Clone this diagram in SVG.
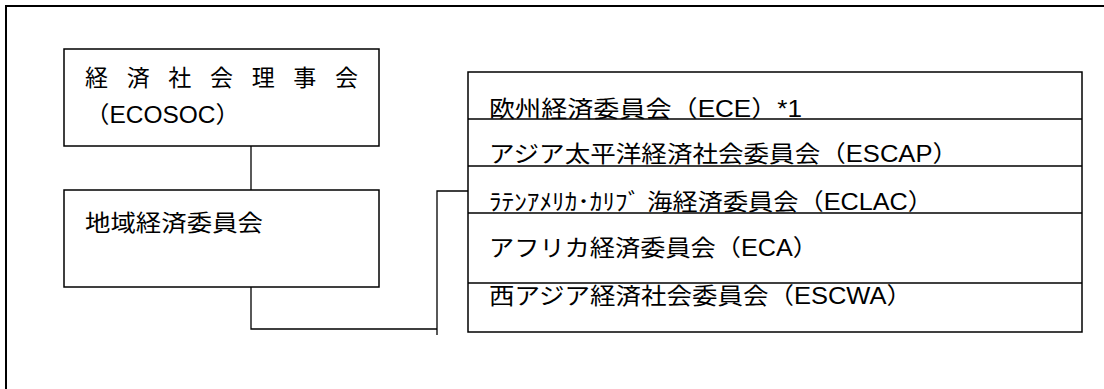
<svg xmlns="http://www.w3.org/2000/svg" width="1104" height="389" viewBox="0 0 1104 389">
<style>
.box{fill:none;stroke:#000;stroke-width:1.5}
.div{stroke:#000;stroke-width:1.5}
.con{fill:none;stroke:#000;stroke-width:1.3}
.frame{fill:none;stroke:#000;stroke-width:2}
text{font-family:"Liberation Sans","Noto Sans CJK JP",sans-serif;font-size:23px;fill:#000}
</style>
<rect width="1104" height="389" fill="#fff"/>
<path class="frame" d="M6 389 V6 H1104"/>
<g id="ecosoc">
<rect class="box" x="64" y="49" width="315" height="97"/>
<text x="85" y="86" textLength="273" lengthAdjust="spacing">経 済 社 会 理 事 会</text>
<text x="85" y="123" textLength="155" lengthAdjust="spacingAndGlyphs">（ECOSOC）</text>
</g>
<g id="regional">
<rect class="box" x="64" y="190" width="315" height="97"/>
<text x="85" y="231" textLength="178" lengthAdjust="spacingAndGlyphs">地域経済委員会</text>
</g>
<g id="commissions">
<rect class="box" x="468" y="72" width="614" height="260"/>
<line class="div" x1="468" y1="119" x2="1082" y2="119"/>
<line class="div" x1="468" y1="166" x2="1082" y2="166"/>
<line class="div" x1="468" y1="213" x2="1082" y2="213"/>
<line class="div" x1="468" y1="283" x2="1082" y2="283"/>
<g id="ece"><text x="489" y="117" textLength="313" lengthAdjust="spacingAndGlyphs">欧州経済委員会（ECE）*1</text></g>
<g id="escap"><text x="489" y="162" textLength="469" lengthAdjust="spacingAndGlyphs">アジア太平洋経済社会委員会（ESCAP）</text></g>
<g id="eclac"><text x="489" y="210" textLength="444" lengthAdjust="spacingAndGlyphs">ﾗﾃﾝｱﾒﾘｶ･ｶﾘﾌﾞ 海経済委員会（ECLAC）</text></g>
<g id="eca"><text x="489" y="256" textLength="329" lengthAdjust="spacingAndGlyphs">アフリカ経済委員会（ECA）</text></g>
<g id="escwa"><text x="489" y="304" textLength="423" lengthAdjust="spacingAndGlyphs">西アジア経済社会委員会（ESCWA）</text></g>
</g>
<g id="connectors">
<line class="con" x1="251" y1="146" x2="251" y2="190"/>
<path class="con" d="M251 287 V329 H437"/>
<path class="con" d="M437 335 V191 H468"/>
</g>
</svg>
